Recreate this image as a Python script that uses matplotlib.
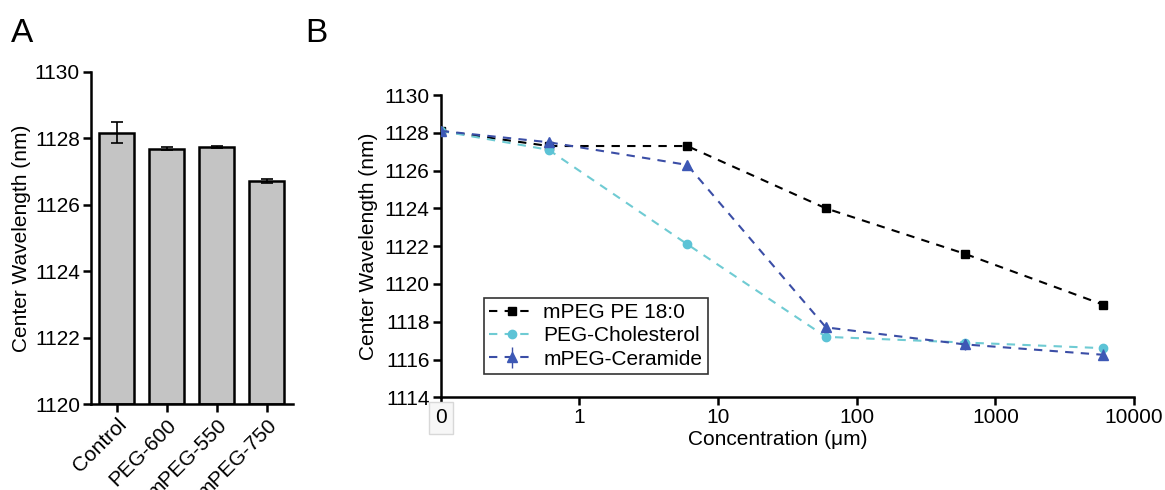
import matplotlib
matplotlib.use("Agg")
import matplotlib.pyplot as plt
import numpy as np

plt.rcParams['font.family'] = ['Liberation Sans', 'DejaVu Sans']

# Panel A data
bar_labels = ["Control", "PEG-600", "mPEG-550", "mPEG-750"]
bar_values = [1128.17, 1127.69, 1127.74, 1126.72]
bar_errors = [0.32, 0.04, 0.02, 0.06]

# Panel B data
conc = [0.1, 0.6, 6, 60, 600, 6000]  # 0.1 stands in for the "0" concentration
conc_ticks = [0.1, 1, 10, 100, 1000, 10000]
conc_ticklabels = ["0", "1", "10", "100", "1000", "10000"]
pe_vals = [1128.1, 1127.3, 1127.3, 1124.0, 1121.6, 1118.9]
chol_vals = [1128.1, 1127.1, 1122.1, 1117.2, 1116.9, 1116.6]
cer_vals = [1128.1, 1127.5, 1126.3, 1117.7, 1116.8, 1116.25]
cer_errs = [0.1, 0.05, 0.05, 0.1, 0.3, 0.3]

fig = plt.figure(figsize=(11.65, 4.9), dpi=100)

FS = 15

# ---- Panel A ----
axA = fig.add_axes([0.0781, 0.1755, 0.1734, 0.6776])
x = np.arange(len(bar_labels))
axA.bar(x, np.array(bar_values) - 1120, bottom=1120, width=0.7,
        color="#c4c4c4", edgecolor="black", linewidth=1.8, zorder=2)
axA.errorbar(x, bar_values, yerr=bar_errors, fmt="none", ecolor="black",
             elinewidth=1.2, capsize=4, capthick=1.2, zorder=3)
axA.set_xlim(-0.52, 3.52)
axA.set_ylim(1120, 1130)
axA.set_yticks([1120, 1122, 1124, 1126, 1128, 1130])
axA.set_xticks(x)
axA.set_xticklabels(bar_labels, rotation=45, ha="right", rotation_mode="anchor")
axA.set_ylabel("Center Wavelength (nm)", fontsize=FS, labelpad=3)
for s in ["top", "right"]:
    axA.spines[s].set_visible(False)
for s in ["left", "bottom"]:
    axA.spines[s].set_linewidth(1.8)
axA.tick_params(axis="both", labelsize=FS, width=1.8, length=6, direction="out", pad=2)
fig.text(0.009, 0.915, "A", fontsize=24)

# ---- Panel B ----
axB = fig.add_axes([0.3783, 0.1892, 0.5951, 0.6169])
axB.plot(conc, pe_vals, linestyle=(0, (4, 3.5)), color="black", linewidth=1.5,
         marker="s", markersize=5.5, markerfacecolor="black", markeredgecolor="black",
         label="mPEG PE 18:0", zorder=3)
axB.plot(conc, chol_vals, linestyle=(0, (4, 3.5)), color="#6fcbd3", linewidth=1.5,
         marker="o", markersize=6, markerfacecolor="#5cc3d6", markeredgecolor="#5cc3d6",
         label="PEG-Cholesterol", zorder=4)
axB.errorbar(conc, cer_vals, yerr=cer_errs, linestyle=(0, (4, 3.5)), color="#3b4ea6",
             linewidth=1.5, marker="^", markersize=7, markerfacecolor="#3d58b5",
             markeredgecolor="#3d58b5", elinewidth=1.0, capsize=0,
             label="mPEG-Ceramide", zorder=5)
axB.set_xscale("log")
axB.set_xlim(0.1, 10000)
axB.set_ylim(1114, 1130)
axB.set_xticks(conc_ticks)
axB.set_xticklabels(conc_ticklabels)
axB.xaxis.set_minor_locator(matplotlib.ticker.NullLocator())
axB.set_yticks(np.arange(1114, 1131, 2))
axB.set_ylabel("Center Wavelength (nm)", fontsize=FS, labelpad=5)
axB.set_xlabel("Concentration (\u03bcm)", fontsize=FS)
axB.xaxis.set_label_coords(0.4865, -0.108)
for s in ["top", "right"]:
    axB.spines[s].set_visible(False)
for s in ["left", "bottom"]:
    axB.spines[s].set_linewidth(1.8)
axB.tick_params(axis="both", labelsize=FS, width=1.8, length=6, direction="out", pad=2)
for lab in axB.get_xticklabels():
    if lab.get_text() == "0":
        lab.set_bbox(dict(boxstyle="square,pad=0.3", facecolor="#f7f7f7",
                          edgecolor="#d8d8d8", linewidth=1))
leg = axB.legend(loc="upper left", bbox_to_anchor=(0.0625, 0.3285), fontsize=FS,
                 frameon=True, fancybox=False, edgecolor="black", handlelength=2.2,
                 handletextpad=0.4, borderpad=0.25, labelspacing=0.2,
                 borderaxespad=0)
leg.get_frame().set_linewidth(1.2)
fig.text(0.262, 0.915, "B", fontsize=24)

fig.savefig("out.png", dpi=100)
